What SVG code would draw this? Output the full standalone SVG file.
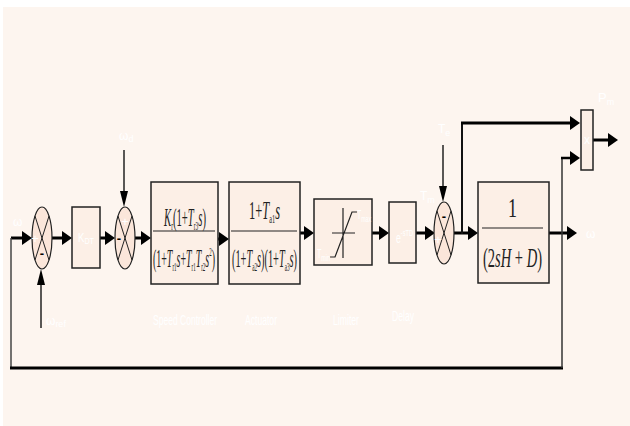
<svg xmlns="http://www.w3.org/2000/svg" width="630" height="426" viewBox="0 0 630 426">
<style>
.blk{fill:#fcefe6;stroke:#222;stroke-width:1.5}
.sum{fill:#fbe6da;stroke:#222;stroke-width:1.2}
.x{stroke:#222;stroke-width:1;fill:none}
.thick{stroke:#000;stroke-width:3;fill:none}
.thin{stroke:#222;stroke-width:1.5;fill:none}
.m{font-family:"Liberation Serif",serif;fill:#222}
.i{font-style:italic}
.w{font-family:"Liberation Sans Narrow","Liberation Sans",sans-serif;fill:#fff}
.sg{font-family:"Liberation Sans",sans-serif;font-weight:bold;fill:#000}
</style>
<defs>
<marker id="ah" markerUnits="userSpaceOnUse" markerWidth="10" markerHeight="14" viewBox="0 0 10 14" refX="0" refY="7" orient="auto"><path d="M0,0 L10,7 L0,14 z" fill="#000"/></marker>
<marker id="ahs" markerUnits="userSpaceOnUse" markerWidth="16" markerHeight="8" viewBox="0 0 16 8" refX="0" refY="4" orient="auto"><path d="M0,0 L16,4 L0,8 z" fill="#000"/></marker>
</defs>
<rect x="0" y="0" width="630" height="426" fill="#fff"/>
<rect x="3" y="7" width="627" height="419" fill="#fdf5ef"/>

<g id="connectors">
<path class="thick" d="M11,238 H22" marker-end="url(#ah)"/>
<path class="thick" d="M52,238 H62" marker-end="url(#ah)"/>
<path class="thick" d="M100,238 H105" marker-end="url(#ah)"/>
<path class="thick" d="M135,238 H141" marker-end="url(#ah)"/>
<path class="thick" d="M218,239 H219" marker-end="url(#ah)"/>
<path class="thick" d="M300,233 H304" marker-end="url(#ah)"/>
<path class="thick" d="M372,233 H379" marker-end="url(#ah)"/>
<path class="thick" d="M416,233 H425" marker-end="url(#ah)"/>
<path class="thick" d="M454,233 H468" marker-end="url(#ah)"/>
<path class="thick" d="M549,233 H567" marker-end="url(#ah)"/>
<path d="M462,234 V123" stroke="#111" stroke-width="2" fill="none"/>
<path class="thick" d="M461,123 H570" marker-end="url(#ah)"/>
<path class="thick" d="M593,140 H608" marker-end="url(#ah)"/>
<path d="M11,238 V368" stroke="#444" stroke-width="1.5" fill="none"/>
<path class="thick" d="M10,368 H563"/>
<path d="M562,368 V158" stroke="#333" stroke-width="1.5" fill="none"/>
<path d="M561,158 H570" stroke="#000" stroke-width="2.5" fill="none" marker-end="url(#ah)"/>
<path class="thin" d="M41,328 V285" marker-end="url(#ahs)"/>
<path class="thin" d="M124,150 V191" marker-end="url(#ahs)"/>
<path class="thin" d="M443,145 V186" marker-end="url(#ahs)"/>
</g>

<g id="labels-signals">
<text class="w" x="13" y="226" font-size="12">ω</text>
<text class="w" x="46" y="325" font-size="12">ω<tspan font-size="9" dy="2">ref</tspan></text>
<text class="w" x="119" y="140" font-size="12">ω<tspan font-size="9" dy="2">d</tspan></text>
<text class="w" x="438" y="133" font-size="12">T<tspan font-size="9" dy="3">e</tspan></text>
<text class="w" x="420" y="200" font-size="12">T<tspan font-size="9" dy="3">m</tspan></text>
<text class="w" x="586" y="238" font-size="12">ω</text>
<text class="w" x="598" y="102" font-size="13">P<tspan font-size="9" dy="3">m</tspan></text>
</g>

<g id="sum1">
<ellipse class="sum" cx="42" cy="238" rx="10" ry="31"/>
<path class="x" d="M35,216 L49,260 M49,216 L35,260"/>
<text class="w" x="35" y="243" font-size="13" text-anchor="middle">+</text>
<text class="sg" x="42" y="258" font-size="13" text-anchor="middle">-</text>
</g>

<g id="kdt">
<rect class="blk" x="72" y="207" width="28" height="61"/>
<text class="w" x="86" y="242" font-size="12" text-anchor="middle" textLength="16" lengthAdjust="spacingAndGlyphs">K<tspan font-size="9" dy="2">DT</tspan></text>
</g>

<g id="sum2">
<ellipse class="sum" cx="125" cy="238" rx="10" ry="31"/>
<path class="x" d="M118,216 L132,260 M132,216 L118,260"/>
<text class="w" x="125" y="226" font-size="13" text-anchor="middle">+</text>
<text class="sg" x="119" y="243" font-size="13" text-anchor="middle">-</text>
</g>

<g id="speed-controller">
<rect class="blk" x="151" y="182" width="67" height="102"/>
<line x1="153" y1="231" x2="215" y2="231" stroke="#222" stroke-width="1.2"/>
<text class="m" x="164" y="226" font-size="26" textLength="42" lengthAdjust="spacingAndGlyphs"><tspan class="i">K</tspan><tspan font-size="13" dy="4">r</tspan><tspan dy="-4">(1+</tspan><tspan class="i">T</tspan><tspan font-size="13" dy="4">r3</tspan><tspan class="i" dy="-4">s</tspan>)</text>
<text class="m" x="153" y="267" font-size="26" textLength="62" lengthAdjust="spacingAndGlyphs">(1+<tspan class="i">T</tspan><tspan font-size="13" dy="4">r1</tspan><tspan class="i" dy="-4">s</tspan>+<tspan class="i">T</tspan><tspan font-size="13" dy="4">r1</tspan><tspan class="i" dy="-4">T</tspan><tspan font-size="13" dy="4">r2</tspan><tspan class="i" dy="-4">s</tspan><tspan font-size="13" dy="-11">2</tspan><tspan dy="11">)</tspan></text>
<text class="w" x="153" y="325" font-size="14" textLength="64" lengthAdjust="spacingAndGlyphs">Speed Controller</text>
</g>

<g id="actuator">
<rect class="blk" x="229" y="182" width="71" height="102"/>
<line x1="231" y1="231" x2="297" y2="231" stroke="#222" stroke-width="1.2"/>
<text class="m" x="249" y="219" font-size="26" textLength="31" lengthAdjust="spacingAndGlyphs">1+<tspan class="i">T</tspan><tspan font-size="13" dy="4">a1</tspan><tspan class="i" dy="-4">s</tspan></text>
<text class="m" x="232" y="267" font-size="26" textLength="65" lengthAdjust="spacingAndGlyphs">(1+<tspan class="i">T</tspan><tspan font-size="13" dy="4">a2</tspan><tspan class="i" dy="-4">s</tspan>)(1+<tspan class="i">T</tspan><tspan font-size="13" dy="4">a3</tspan><tspan class="i" dy="-4">s</tspan>)</text>
<text class="w" x="245" y="325" font-size="14" textLength="32" lengthAdjust="spacingAndGlyphs">Actuator</text>
</g>

<g id="limiter">
<rect class="blk" x="314" y="199" width="58" height="66"/>
<path d="M332,233 H355 M343,208 V258 M330,257 H335 L352,212 H357" stroke="#222" stroke-width="1.2" fill="none"/>
<text class="w" x="357" y="219" font-size="12" textLength="14" lengthAdjust="spacingAndGlyphs">T<tspan font-size="9" dy="3">max</tspan></text>
<text class="w" x="317" y="258" font-size="12" textLength="13" lengthAdjust="spacingAndGlyphs">T<tspan font-size="9" dy="3">min</tspan></text>
<text class="w" x="333" y="325" font-size="14" textLength="26" lengthAdjust="spacingAndGlyphs">Limiter</text>
</g>

<g id="delay">
<rect class="blk" x="389" y="202" width="27" height="61"/>
<text class="w" x="396" y="243" font-size="14" textLength="17" lengthAdjust="spacingAndGlyphs">e<tspan font-size="9" dy="-7">-sTD</tspan></text>
<text class="w" x="392" y="321" font-size="14" textLength="22" lengthAdjust="spacingAndGlyphs">Delay</text>
</g>

<g id="sum3">
<ellipse class="sum" cx="444" cy="233" rx="10" ry="31"/>
<path class="x" d="M437,211 L451,255 M451,211 L437,255"/>
<text class="sg" x="444" y="221" font-size="13" text-anchor="middle">-</text>
<text class="w" x="438" y="244" font-size="13" text-anchor="middle">+</text>
</g>

<g id="swing">
<rect class="blk" x="478" y="182" width="71" height="101"/>
<line x1="482" y1="228" x2="543" y2="228" stroke="#222" stroke-width="1.2"/>
<text class="m" x="512.5" y="217" font-size="28" text-anchor="middle" textLength="9" lengthAdjust="spacingAndGlyphs">1</text>
<text class="m" x="483" y="267" font-size="28" textLength="59" lengthAdjust="spacingAndGlyphs">(2<tspan class="i">sH</tspan> + <tspan class="i">D</tspan>)</text>
</g>

<g id="multiplier">
<rect class="blk" x="581" y="110" width="12" height="60"/>
<text class="w" x="587" y="144" font-size="12" text-anchor="middle">x</text>
</g>
</svg>
